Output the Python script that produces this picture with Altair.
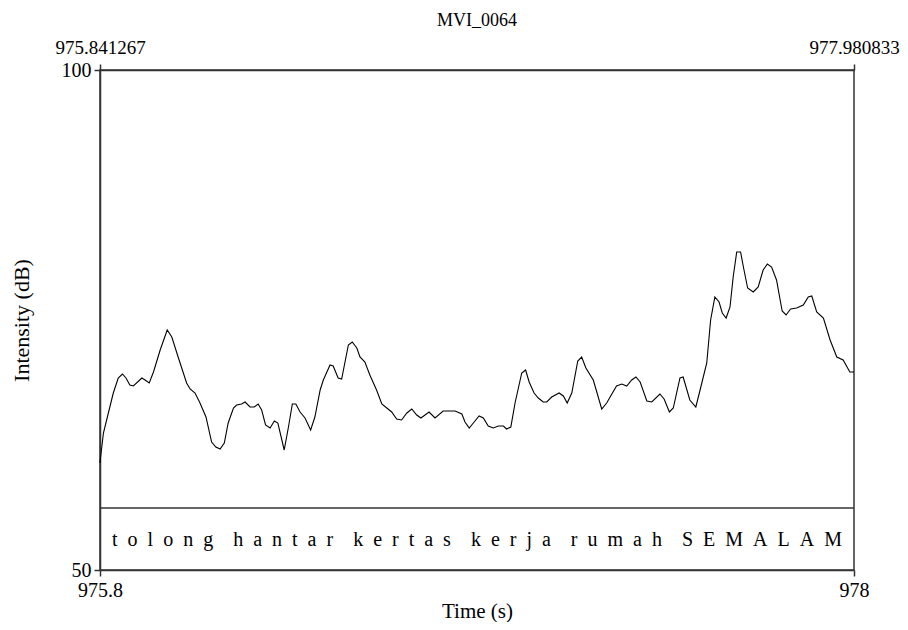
import altair as alt
import pandas as pd

# Time (s) and intensity (dB)
times = [
    975.841, 975.851, 975.865, 975.879, 975.893, 975.905, 975.915, 975.926, 975.936, 975.960,
    975.969, 975.981, 975.993, 976.012, 976.032, 976.045, 976.063, 976.087, 976.097, 976.111,
    976.125, 976.142, 976.158, 976.170, 976.182, 976.194, 976.205, 976.220, 976.229, 976.243,
    976.253, 976.267, 976.279, 976.290, 976.300, 976.311, 976.324, 976.336, 976.346, 976.364,
    976.376, 976.387, 976.397, 976.409, 976.423, 976.439, 976.451, 976.466, 976.475, 976.494,
    976.503, 976.517, 976.527, 976.546, 976.557, 976.570, 976.579, 976.593, 976.607, 976.626,
    976.641, 976.655, 976.669, 976.683, 976.697, 976.712, 976.726, 976.740, 976.752, 976.775,
    976.792, 976.815, 976.849, 976.868, 976.877, 976.889, 976.903, 976.917, 976.929, 976.943,
    976.957, 976.972, 976.986, 976.995, 977.007, 977.019, 977.038, 977.049, 977.059, 977.073,
    977.085, 977.099, 977.109, 977.123, 977.144, 977.156, 977.167, 977.180, 977.197, 977.208,
    977.220, 977.241, 977.265, 977.279, 977.307, 977.322, 977.336, 977.350, 977.362, 977.374,
    977.393, 977.407, 977.430, 977.442, 977.457, 977.468, 977.487, 977.496, 977.515, 977.532,
    977.549, 977.563, 977.574, 977.586, 977.598, 977.607, 977.618, 977.629, 977.638, 977.648,
    977.659, 977.667, 977.679, 977.695, 977.709, 977.723, 977.735, 977.747, 977.761, 977.777,
    977.788, 977.801, 977.818, 977.837, 977.851, 977.861, 977.875, 977.894, 977.913, 977.932,
    977.950, 977.969, 977.981,
]
intensity = [
    60.7, 63.7, 65.7, 67.7, 69.2, 69.6, 69.2, 68.5, 68.4, 69.2,
    69.0, 68.7, 69.8, 72.0, 74.0, 73.3, 71.3, 68.7, 68.1, 67.7,
    66.7, 65.3, 62.8, 62.3, 62.1, 62.7, 64.7, 66.2, 66.5, 66.6,
    66.8, 66.3, 66.3, 66.6, 66.0, 64.5, 64.2, 64.9, 64.7, 62.0,
    64.3, 66.6, 66.6, 65.8, 65.2, 64.0, 65.3, 68.0, 69.0, 70.5,
    70.4, 69.2, 69.1, 72.5, 72.8, 72.2, 71.3, 70.8, 69.5, 68.0,
    66.6, 66.2, 65.8, 65.1, 65.0, 65.7, 66.1, 65.5, 65.2, 65.8,
    65.2, 65.9, 65.9, 65.6, 64.8, 64.2, 64.8, 65.4, 65.2, 64.4,
    64.2, 64.4, 64.4, 64.1, 64.3, 66.7, 69.7, 70.0, 68.8, 67.7,
    67.2, 66.8, 66.8, 67.3, 67.7, 67.4, 66.7, 67.7, 70.9, 71.3,
    70.2, 69.0, 66.1, 66.7, 68.4, 68.6, 68.4, 69.0, 69.3, 68.8,
    66.9, 66.8, 67.6, 67.1, 65.8, 66.2, 69.2, 69.3, 67.0, 66.3,
    68.7, 70.7, 75.0, 77.3, 76.8, 75.7, 75.2, 76.3, 79.3, 81.8,
    81.8, 80.3, 78.2, 77.8, 78.3, 80.0, 80.6, 80.3, 79.0, 75.9,
    75.5, 76.1, 76.2, 76.5, 77.3, 77.4, 75.8, 75.2, 73.0, 71.3,
    71.0, 69.8, 69.8,
]

t_start = 975.841267
t_end = 977.980833
bottom_labels = ["975.8", "978"]
y_min, y_max = 50, 100
tier_boundary = 56.2
tier_text_y = 53.0
words = ["tolong", "hantar", "kertas", "kerja", "rumah", "SEMALAM"]
title = "MVI_0064"

FONT = "Liberation Serif, Times New Roman, serif"
sp = "\u2002"
tier_string = (sp * 2).join(sp.join(list(w)) for w in words)

df = pd.DataFrame({"time": times, "db": intensity})

xscale = alt.Scale(domain=[t_start, t_end], nice=False, zero=False)
yscale = alt.Scale(domain=[y_min, y_max], nice=False, zero=False)

label_expr = f"datum.value < 977 ? '{bottom_labels[0]}' : '{bottom_labels[1]}'"

axis_style = dict(labelFont=FONT, titleFont=FONT,
                  labelColor="black", titleColor="black", titleFontWeight="normal",
                  domainColor="#333333", tickColor="#333333", domainWidth=1.5, tickWidth=1.5,
                  grid=False, tickSize=6)

line = alt.Chart(df).mark_line(color="black", strokeWidth=1.1).encode(
    x=alt.X("time:Q", scale=xscale,
            axis=alt.Axis(orient="bottom", values=[t_start, t_end], labelExpr=label_expr,
                          title="Time (s)", titleFontSize=21, labelFontSize=20, labelFlush=False,
                          labelPadding=4, titlePadding=0, **axis_style)),
    y=alt.Y("db:Q", scale=yscale,
            axis=alt.Axis(values=[y_min, y_max], title="Intensity (dB)", titleFontSize=22,
                          labelFontSize=20, labelPadding=3, titlePadding=28, **axis_style)),
)

top = alt.Chart(pd.DataFrame({"time": [t_start, t_end]})).mark_point(opacity=0).encode(
    x=alt.X("time:Q", scale=xscale,
            axis=alt.Axis(orient="top", values=[t_start, t_end], format=".6f", title=None,
                          labelFontSize=19, labelFlush=False, labelPadding=7, **axis_style)),
)

sep = alt.Chart(pd.DataFrame({"db": [tier_boundary]})).mark_rule(color="#333333", strokeWidth=1.5).encode(
    y=alt.Y("db:Q", scale=yscale),
)

tier = alt.Chart(pd.DataFrame({"time": [(t_start + t_end) / 2], "db": [tier_text_y],
                               "label": [tier_string]})).mark_text(
    font=FONT, fontSize=20, color="black", baseline="middle", align="center"
).encode(
    x=alt.X("time:Q", scale=xscale, axis=None),
    y=alt.Y("db:Q", scale=yscale),
    text="label:N",
)

chart = alt.layer(line, top, sep, tier).resolve_axis(x="independent").properties(
    width=754, height=500,
    title=alt.TitleParams(title, font=FONT, fontSize=18, fontWeight="normal", color="black",
                          anchor="middle", offset=8),
    autosize=alt.AutoSizeParams(type="none"),
    padding={"left": 92, "top": 62, "right": 46, "bottom": 52},
).configure_view(stroke="#333333", strokeWidth=1.5)

chart.save("out.html", embed_options={"renderer": "svg", "actions": False})
